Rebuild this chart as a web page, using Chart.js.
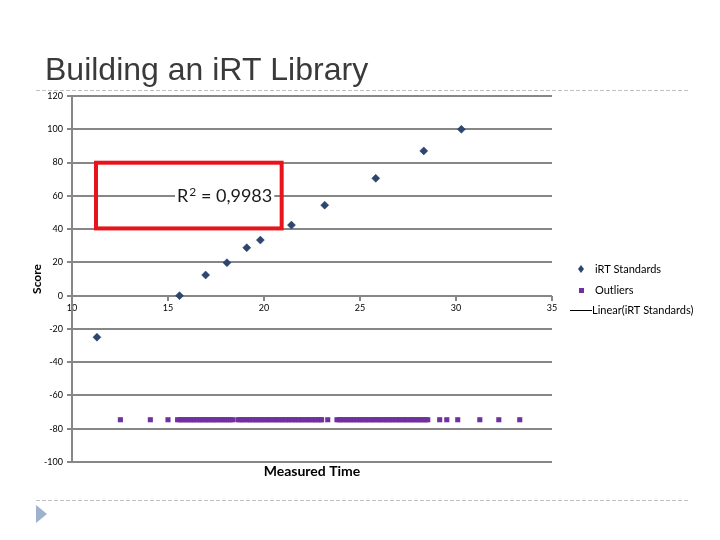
<!DOCTYPE html>
<html>
<head>
<meta charset="utf-8">
<title>Building an iRT Library</title>
<script src="https://cdn.jsdelivr.net/npm/chart.js@4"></script>
<style>
    html, body { margin: 0; padding: 0; background: #fff; }
    #wrap { position: relative; width: 720px; height: 540px; }
</style>
</head>
<body>
<div id="wrap"><canvas id="irtChart" width="720" height="540"></canvas></div>
<script>
// iRT standard peptides: measured time vs score
const standardTimes = [11.3, 15.6, 16.96, 18.07, 19.1, 19.81, 21.43, 23.16, 25.82, 28.32, 30.28];
const standardScores = [-25, 0, 12.4, 19.8, 28.8, 33.4, 42.4, 54.4, 70.5, 87, 100];

// Outliers all sit on the same score
const outlierScore = -74.6;
const outlierTimes = [
    12.52, 14.08, 15.0,
    15.50, 15.62, 15.71, 15.83, 15.95, 16.04, 16.17, 16.28, 16.36, 16.49, 16.61, 16.70, 16.82, 16.93,
    17.05, 17.14, 17.27, 17.38, 17.47, 17.59, 17.72, 17.81, 17.93, 18.04, 18.16, 18.27, 18.37,
    18.64, 18.75, 18.87, 18.96, 19.09, 19.21, 19.30, 19.42, 19.55, 19.63, 19.76, 19.88, 19.97,
    20.10, 20.22, 20.31, 20.44, 20.56, 20.65, 20.78, 20.90, 20.99, 21.12, 21.24, 21.33, 21.46,
    21.58, 21.67, 21.80, 21.92, 22.01, 22.14, 22.26, 22.35, 22.48, 22.60, 22.69, 22.82, 22.94, 23.0,
    23.32,
    23.80, 23.92, 24.01, 24.14, 24.26, 24.35, 24.48, 24.60, 24.69, 24.82, 24.94, 25.03, 25.16,
    25.28, 25.37, 25.50, 25.62, 25.71, 25.84, 25.96, 26.05, 26.18, 26.30, 26.39, 26.52, 26.64,
    26.73, 26.86, 26.98, 27.07, 27.20, 27.32, 27.41, 27.54, 27.66, 27.75, 27.88, 28.00, 28.09,
    28.22, 28.34, 28.43, 28.53,
    29.15, 29.52, 30.09, 31.24, 32.23, 33.32
];

const xTicks = { min: 10, max: 35, step: 5 };
const yTicks = { min: -100, max: 120, step: 20 };
const rSquaredParts = ['R', '2', ' = 0,9983'];

const GRID = '#878787';
const STD_COLOR = '#2B4770';
const OUT_COLOR = '#7030A0';

// Slide decoration: title, dashed rules, bullet
const slidePlugin = {
    id: 'slide',
    beforeDraw(chart) {
        const ctx = chart.ctx;
        ctx.save();
        ctx.fillStyle = '#fff';
        ctx.fillRect(0, 0, chart.width, chart.height);
        ctx.font = '32px "Liberation Sans", Arial, sans-serif';
        ctx.fillStyle = '#3A3A3A';
        ctx.textBaseline = 'alphabetic';
        ctx.fillText('Building an iRT Library', 45, 80);
        ctx.strokeStyle = '#C0C0C0';
        ctx.lineWidth = 1;
        ctx.setLineDash([4, 2]);
        ctx.beginPath();
        ctx.moveTo(36, 90.5); ctx.lineTo(688, 90.5);
        ctx.moveTo(36, 500.5); ctx.lineTo(688, 500.5);
        ctx.stroke();
        ctx.setLineDash([]);
        ctx.fillStyle = '#9DB3CD';
        ctx.beginPath();
        ctx.moveTo(36, 505); ctx.lineTo(47, 514); ctx.lineTo(36, 523);
        ctx.closePath();
        ctx.fill();
        ctx.restore();
    }
};

// Red highlight box with R² label
const boxPlugin = {
    id: 'rBox',
    afterDatasetsDraw(chart) {
        const ctx = chart.ctx;
        const x = chart.scales.x, y = chart.scales.y;
        const l = x.getPixelForValue(11.25), r = x.getPixelForValue(20.92);
        const t = y.getPixelForValue(79.9), b = y.getPixelForValue(40.4);
        ctx.save();
        const big = '18px Lato, sans-serif', small = '12px Lato, sans-serif';
        ctx.font = big;
        const w0 = ctx.measureText(rSquaredParts[0]).width;
        const w2 = ctx.measureText(rSquaredParts[2]).width;
        ctx.font = small;
        const w1 = ctx.measureText(rSquaredParts[1]).width + 1;
        const w = w0 + w1 + w2;
        const cx = x.getPixelForValue(17.95), cy = y.getPixelForValue(60);
        let px = cx - w / 2;
        const base = cy + 6;
        ctx.fillStyle = '#fff';
        ctx.fillRect(px - 2, cy - 10, w + 4, 19);
        ctx.fillStyle = '#1a1a1a';
        ctx.textBaseline = 'alphabetic';
        ctx.font = big;
        ctx.fillText(rSquaredParts[0], px, base);
        px += w0 + 1;
        ctx.font = small;
        ctx.fillText(rSquaredParts[1], px, base - 6);
        px += w1 - 1;
        ctx.font = big;
        ctx.fillText(rSquaredParts[2], px, base);
        ctx.strokeStyle = '#E8141C';
        ctx.lineWidth = 4;
        ctx.strokeRect(l, t, r - l, b - t);
        ctx.restore();
    }
};

// Legend on the right
const sideLegend = {
    id: 'sideLegend',
    afterDraw(chart) {
        const ctx = chart.ctx;
        const ds = chart.data.datasets;
        ctx.save();
        ctx.font = '11px Lato, sans-serif';
        ctx.fillStyle = '#000';
        ctx.textBaseline = 'middle';
        // iRT Standards
        ctx.fillStyle = ds[0].backgroundColor;
        ctx.beginPath();
        ctx.moveTo(581, 265); ctx.lineTo(584, 269); ctx.lineTo(581, 273); ctx.lineTo(578, 269);
        ctx.closePath(); ctx.fill();
        ctx.fillStyle = '#000';
        ctx.fillText(ds[0].label, 595, 269);
        // Outliers
        ctx.fillStyle = ds[1].backgroundColor;
        ctx.fillRect(579, 288, 5, 5);
        ctx.fillStyle = '#000';
        ctx.fillText(ds[1].label, 595, 290);
        // Trend line
        ctx.strokeStyle = ds[2].borderColor;
        ctx.lineWidth = 1;
        ctx.beginPath();
        ctx.moveTo(570, 310.5); ctx.lineTo(592, 310.5);
        ctx.stroke();
        ctx.fillText(ds[2].label, 592, 310);
        ctx.restore();
    }
};

function buildChart() {
    const ctx = document.getElementById('irtChart').getContext('2d');
    return new Chart(ctx, {
        type: 'scatter',
        data: {
            datasets: [{
                label: 'iRT Standards',
                data: standardTimes.map((t, i) => ({ x: t, y: standardScores[i] })),
                pointStyle: 'rectRot',
                pointRadius: 4,
                backgroundColor: STD_COLOR,
                borderColor: '#1F3658',
                borderWidth: 0.5
            }, {
                label: 'Outliers',
                data: outlierTimes.map(t => ({ x: t, y: outlierScore })),
                pointStyle: 'rect',
                pointRadius: 3.6,
                backgroundColor: OUT_COLOR,
                borderWidth: 0
            }, {
                type: 'line',
                label: 'Linear(iRT Standards)',
                data: [],
                borderColor: '#000',
                borderWidth: 1
            }]
        },
        options: {
            responsive: false,
            animation: false,
            layout: { padding: { left: 0, top: 96, right: 168, bottom: 0 } },
            plugins: {
                legend: { display: false },
                tooltip: { enabled: false }
            },
            scales: {
                x: {
                    type: 'linear',
                    position: { y: 0 },
                    min: xTicks.min,
                    max: xTicks.max,
                    ticks: {
                        stepSize: xTicks.step,
                        color: '#000',
                        padding: 2,
                        font: { family: 'Lato', size: 9 }
                    },
                    grid: { drawOnChartArea: false, tickLength: 5, color: GRID, lineWidth: 2 },
                    border: { display: false }
                },
                x2: {
                    type: 'linear',
                    position: 'bottom',
                    min: xTicks.min,
                    max: xTicks.max,
                    ticks: { display: false },
                    grid: { display: false },
                    border: { display: false },
                    title: {
                        display: true,
                        text: 'Measured Time',
                        color: '#000',
                        font: { family: 'Lato', size: 14, weight: 'bold' },
                        padding: { top: 0, bottom: 60 }
                    },
                    afterFit(scale) { scale.height = 78; }
                },
                y: {
                    min: yTicks.min,
                    max: yTicks.max,
                    ticks: {
                        stepSize: yTicks.step,
                        color: '#000',
                        padding: 4,
                        font: { family: 'Lato', size: 9 }
                    },
                    grid: { color: GRID, lineWidth: 2, tickLength: 5 },
                    border: { color: GRID, width: 2 },
                    title: {
                        display: true,
                        text: 'Score',
                        color: '#000',
                        font: { family: 'Lato', size: 12, weight: 'bold' },
                        padding: { top: 30, bottom: 0 }
                    },
                    afterFit(scale) { scale.width = 72; }
                }
            }
        },
        plugins: [slidePlugin, boxPlugin, sideLegend]
    });
}

document.addEventListener('DOMContentLoaded', function() {
    buildChart();
});
</script>
</body>
</html>
